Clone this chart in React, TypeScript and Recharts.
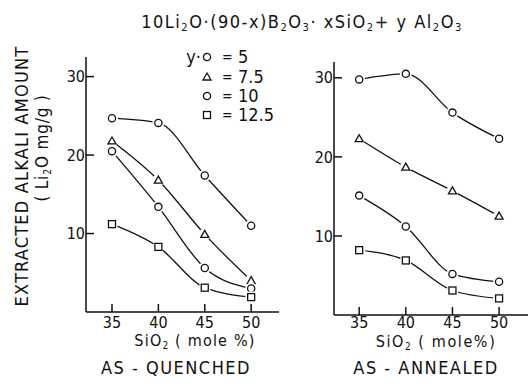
import React from 'react';
import { LineChart, Line, XAxis, YAxis } from 'recharts';

const sio2 = [35, 40, 45, 50];
const quenchedY5 = [24.7, 24.1, 17.4, 11.0];
const quenchedY75 = [21.8, 16.8, 9.9, 4.0];
const quenchedY10 = [20.5, 13.4, 5.6, 3.0];
const quenchedY125 = [11.2, 8.3, 3.1, 1.9];
const annealedY5 = [29.8, 30.5, 25.6, 22.3];
const annealedY75 = [22.3, 18.7, 15.7, 12.5];
const annealedY10 = [15.1, 11.2, 5.2, 4.2];
const annealedY125 = [8.2, 6.9, 3.1, 2.1];
const xTicks = [35, 40, 45, 50];
const yTicks = [10, 20, 30];
const legendLabels = ['5', '7.5', '10', '12.5'];
const legendShapes = ['circle', 'triangle', 'circle', 'square'];

const FONT = '"Liberation Sans Narrow", "DejaVu Sans Condensed", "Liberation Sans", sans-serif';
const INK = '#111';

const buildRows = (a: number[], b: number[], c: number[], d: number[]) =>
  sio2.map((x, i) => ({ x, y5: a[i], y75: b[i], y10: c[i], y125: d[i] }));

const quenchedData = buildRows(quenchedY5, quenchedY75, quenchedY10, quenchedY125);
const annealedData = buildRows(annealedY5, annealedY75, annealedY10, annealedY125);

const Marker = ({ shape, cx, cy }: { shape: string; cx: number; cy: number }) => {
  if (shape === 'triangle') {
    return (
      <g>
        <circle cx={cx} cy={cy} r={6} fill="#fff" />
        <polygon
          points={`${cx},${cy - 4} ${cx - 4},${cy + 3} ${cx + 4},${cy + 3}`}
          fill="#fff" stroke={INK} strokeWidth={1.3}
        />
      </g>
    );
  }
  if (shape === 'square') {
    return (
      <g>
        <circle cx={cx} cy={cy} r={6} fill="#fff" />
        <rect x={cx - 3.5} y={cy - 3.5} width={7} height={7} fill="#fff" stroke={INK} strokeWidth={1.3} />
      </g>
    );
  }
  return (
    <g>
      <circle cx={cx} cy={cy} r={6} fill="#fff" />
      <circle cx={cx} cy={cy} r={3.6} fill="#fff" stroke={INK} strokeWidth={1.3} />
    </g>
  );
};

const makeDot = (shape: string) => (props: any) => (
  <Marker key={`${shape}-${props.index}-${props.dataKey}`} shape={shape} cx={props.cx} cy={props.cy} />
);

const seriesKeys = ['y5', 'y75', 'y10', 'y125'];

interface PanelProps {
  data: typeof quenchedData;
  left: number;
  width: number;
  margin: { top: number; right: number; left: number; bottom: number };
  xDomain: [number, number];
  yDomain: [number, number];
  xTickMargin: number;
}

const Panel: React.FC<PanelProps> = ({ data, left, width, margin, xDomain, yDomain, xTickMargin }) => (
  <div style={{ position: 'absolute', left, top: 0 }}>
    <LineChart width={width} height={389} data={data} margin={margin}>
      <XAxis
        dataKey="x" type="number" domain={xDomain} ticks={xTicks} allowDataOverflow
        height={30} tickSize={-8} tickMargin={xTickMargin}
        stroke={INK} strokeWidth={1.5}
        tick={{ fill: INK, fontSize: 16, fontFamily: FONT }}
      />
      <YAxis
        type="number" domain={yDomain} ticks={yTicks} allowDataOverflow
        width={30} tickSize={-8} tickMargin={9}
        stroke={INK} strokeWidth={1.5}
        tick={{ fill: INK, fontSize: 16, fontFamily: FONT }}
      />
      {seriesKeys.map((k, i) => (
        <Line
          key={k} dataKey={k} type="monotone" stroke={INK} strokeWidth={1.3}
          dot={makeDot(legendShapes[i])} activeDot={false} isAnimationActive={false}
        />
      ))}
    </LineChart>
  </div>
);

const LegendIcon = ({ shape }: { shape: string }) => (
  <svg width={12} height={12} style={{ display: 'block' }}>
    <Marker shape={shape} cx={6} cy={6} />
  </svg>
);

const sub = { fontSize: '0.62em', verticalAlign: '-0.25em' } as const;

const centered = (x: number, y: number, size: number, spacing: number): React.CSSProperties => ({
  position: 'absolute', left: x, top: y, transform: 'translate(-50%, -50%)',
  fontSize: size, letterSpacing: spacing, whiteSpace: 'nowrap', lineHeight: 1,
});

export default function App() {
  const rowY = [57, 77, 96, 115];
  return (
    <div style={{ position: 'absolute', left: 0, top: 0, width: 528, height: 389, background: '#fff', fontFamily: FONT, color: INK, overflow: 'hidden' }}>
      <Panel
        data={quenchedData} left={0} width={290}
        margin={{ top: 57, right: 11, left: 56, bottom: 47 }}
        xDomain={[32.2, 53]} yDomain={[0, 32.5]} xTickMargin={13}
      />
      <Panel
        data={annealedData} left={270} width={258}
        margin={{ top: 62, right: 0, left: 34, bottom: 44 }}
        xDomain={[32.3, 53.1]} yDomain={[0, 32]} xTickMargin={10}
      />

      <div style={centered(302, 23, 18, 1.5)}>
        10Li<span style={sub}>2</span>O·(90-x)B<span style={sub}>2</span>O<span style={sub}>3</span>· xSiO<span style={sub}>2</span>+ y Al<span style={sub}>2</span>O<span style={sub}>3</span>
      </div>

      <div style={{ ...centered(22, 176, 18, 1.2), transform: 'translate(-50%, -50%) rotate(-90deg)' }}>
        EXTRACTED  ALKALI  AMOUNT
      </div>
      <div style={{ ...centered(43, 148, 17, 0.8), transform: 'translate(-50%, -50%) rotate(-90deg)' }}>
        ( Li<span style={sub}>2</span>O  mg/g )
      </div>

      {legendLabels.map((lab, i) => (
        <React.Fragment key={lab}>
          {i === 0 && (
            <div style={{ position: 'absolute', right: 528 - 201, top: rowY[i], transform: 'translateY(-50%)', fontSize: 18, lineHeight: 1 }}>y·</div>
          )}
          <div style={{ position: 'absolute', left: 201, top: rowY[i] - 6 }}>
            <LegendIcon shape={legendShapes[i]} />
          </div>
          <div style={{ position: 'absolute', left: 222, top: rowY[i], transform: 'translateY(-50%)', fontSize: 14, lineHeight: 1 }}>=</div>
          <div style={{ position: 'absolute', left: 238, top: rowY[i], transform: 'translateY(-50%)', fontSize: 18, lineHeight: 1 }}>{lab}</div>
        </React.Fragment>
      ))}

      <div style={centered(195, 342, 16, 1.2)}>
        SiO<span style={sub}>2</span> ( mole %)
      </div>
      <div style={centered(176, 368, 18, 1.5)}>
        AS - QUENCHED
      </div>
      <div style={centered(436, 343, 16, 1.6)}>
        SiO<span style={sub}>2</span> ( mole%)
      </div>
      <div style={centered(426, 368, 18, 1.5)}>
        AS - ANNEALED
      </div>
    </div>
  );
}
